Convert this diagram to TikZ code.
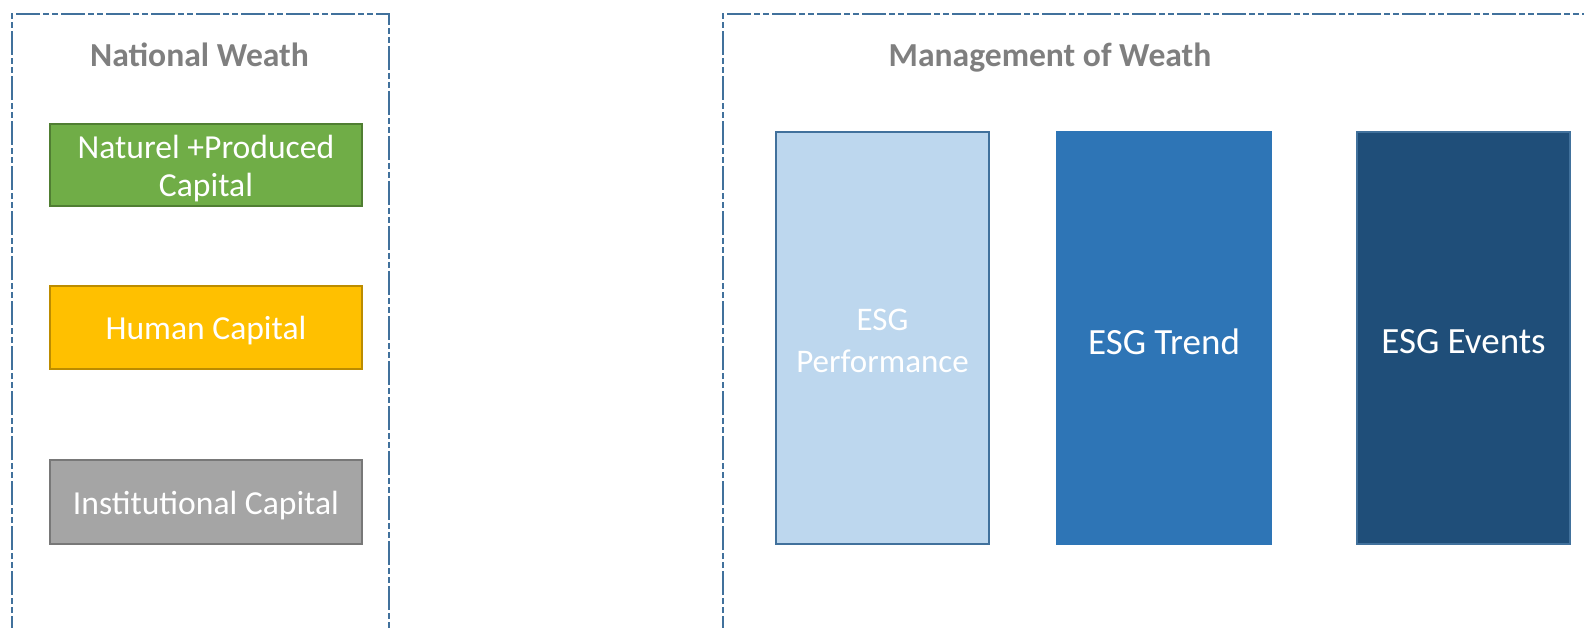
\documentclass[tikz,border=0pt]{standalone}
\usepackage{fontspec}
\setmainfont{Carlito}
\definecolor{frameblue}{HTML}{41719C}
\definecolor{titlegray}{HTML}{7F7F7F}
\definecolor{natgreen}{HTML}{70AD47}
\definecolor{natgreenline}{HTML}{507E32}
\definecolor{humanyellow}{HTML}{FFC000}
\definecolor{humanyellowline}{HTML}{BC8C00}
\definecolor{instgray}{HTML}{A5A5A5}
\definecolor{instgrayline}{HTML}{787878}
\definecolor{perfblue}{HTML}{BDD7EE}
\definecolor{trendblue}{HTML}{2E75B6}
\definecolor{eventblue}{HTML}{1F4E79}
\begin{document}
\begin{tikzpicture}[x=1pt,y=-1pt,
  groupframe/.style={draw=frameblue,line width=2.4pt,
    dash pattern=on 24pt off 3pt on 6pt off 3pt on 6pt off 3pt},
  grouptitle/.style={text=titlegray,font=\fontsize{33.6}{38}\selectfont\bfseries,anchor=base,inner sep=0pt},
  capbox/.style={line width=2pt},
  esgbox/.style={line width=2pt},
  boxlabel/.style={text=white,align=center,inner sep=0pt}
]
\useasboundingbox (0,0) rectangle (1584,628);
\begin{scope}
\clip (0,0) rectangle (1584,628);
% group frames (open at the page edges)
\draw[groupframe] (12,640) -- (12,14) -- (389,14) -- (389,640);
\draw[groupframe] (723,640) -- (723,14) -- (1600,14);
\end{scope}

% titles
\node[grouptitle] (natT) at (199.5,67) {National Weath};
\node[grouptitle] (manT) at (1050,67) {Management of Weath};

% capital boxes
\draw[capbox,fill=natgreen,draw=natgreenline] (50,124) rectangle (362,206);
\node[boxlabel,font=\fontsize{33.6}{38}\selectfont] (nat) at (206,168.5) {Naturel +Produced\\Capital};
\draw[capbox,fill=humanyellow,draw=humanyellowline] (50,286) rectangle (362,369);
\node[boxlabel,font=\fontsize{33.6}{38}\selectfont] (hum) at (206,331) {Human Capital};
\draw[capbox,fill=instgray,draw=instgrayline] (50,460) rectangle (362,544);
\node[boxlabel,font=\fontsize{33.6}{38}\selectfont] (ins) at (206,505.5) {Institutional Capital};

% ESG boxes
\draw[esgbox,fill=perfblue,draw=frameblue] (776,132) rectangle (989,544);
\node[boxlabel,font=\fontsize{33}{42}\selectfont] (perf) at (882.5,341) {ESG\\Performance};
\draw[esgbox,fill=trendblue,draw=trendblue] (1057,132) rectangle (1271,544);
\node[boxlabel,font=\fontsize{37}{42}\selectfont] (trend) at (1164,341.5) {ESG Trend};
\draw[esgbox,fill=eventblue,draw=frameblue] (1357,132) rectangle (1570,544);
\node[boxlabel,font=\fontsize{37}{42}\selectfont] (event) at (1463.5,341.5) {ESG Events};
\end{tikzpicture}
\end{document}
